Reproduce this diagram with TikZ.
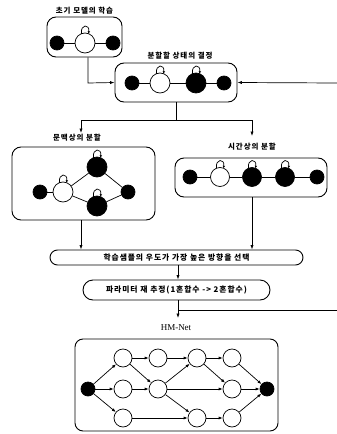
\documentclass[tikz,border=0pt]{standalone}
\usepackage{fontspec}
\newfontfamily\kr[LetterSpace=12]{Noto Sans CJK KR}
\newfontfamily\hmserif{Liberation Serif}
\usetikzlibrary{arrows.meta,calc}
% self loop on top of a node: #1 node name, #2 vertical offset of the foot points
\newcommand\sloop[2]{\draw[selfloop] ($(#1)+(-3.5,-#2)$) .. controls +(-1.5,-10) and +(1.5,-10) .. ($(#1)+(3.5,-#2)$);}
\begin{document}
\begin{tikzpicture}[x=1pt,y=-1pt,
  lw/.style={line width=0.7pt},
  box/.style={draw,line width=0.9pt,rounded corners=9pt,inner sep=0pt},
  lbl/.style={font=\kr\bfseries\fontsize{7.5}{9}\selectfont,inner sep=1pt},
  bk/.style={circle,draw,fill=black,inner sep=0pt,minimum size=#1,line width=0.7pt},
  wt/.style={circle,draw,fill=white,inner sep=0pt,minimum size=#1,line width=0.7pt},
  arr/.style={lw,-{Latex[length=4.5pt,width=3.2pt]}},
  harr/.style={lw,-{Latex[length=4pt,width=3pt]}},
  selfloop/.style={lw,-{Latex[length=2.5pt,width=2.5pt]}},
]
\useasboundingbox (0,0) rectangle (337,434);

% ---- Box 1: initial model
\node[lbl] (t1) at (84.5,11) {초기 모델의 학습};
\node[box,minimum width=75pt,minimum height=40pt] (b1) at (84.5,37) {};
\node[bk=14pt] (a1) at (57,43) {};
\node[wt=20pt] (a2) at (85,43) {};
\node[bk=14pt] (a3) at (113,43) {};
\draw[lw] (a1) -- (a2) -- (a3);
\sloop{a2}{9.2}

% ---- Box 2: state to split
\node[lbl] (t2) at (180,56) {분할할 상태의 결정};
\node[box,minimum width=122pt,minimum height=39pt] (b2) at (176,82.5) {};
\node[bk=14pt] (c1) at (132,83) {};
\node[wt=20pt] (c2) at (160,83) {};
\node[bk=20pt] (c3) at (196,83) {};
\node[bk=14pt] (c4) at (224,83) {};
\draw[lw] (c1) -- (c2) -- (c3) -- (c4);
\sloop{c2}{9.2}
\sloop{c3}{9.2}

% connectors box1 -> box2, feedback -> box2
\coordinate (j1) at (88,83);
\draw[arr] (b1.south -| j1) -- (j1) -- (b2.west);
\coordinate (fbtop) at (337,83);
\draw[arr] (fbtop) -- (b2.east);

% branch
\coordinate (br) at (176,120);
\coordinate (brl) at (81,120);
\coordinate (brr) at (252,120);
\coordinate (t3a) at (81,133);
\coordinate (t4a) at (252,136);
\draw[lw] (b2.south) -- (br);
\draw[arr] (br) -- (brl) -- (t3a);
\draw[arr] (br) -- (brr) -- (t4a);

% ---- Box 3: contextual split
\node[lbl] (t3) at (77,138) {문맥상의 분할};
\node[box,minimum width=143pt,minimum height=73pt] (b3) at (83.5,183.5) {};
\node[bk=14pt] (d1) at (40,192) {};
\node[wt=20pt] (d2) at (63,192) {};
\node[bk=20pt] (d3) at (97,167) {};
\node[bk=20pt] (d4) at (97,206) {};
\node[bk=14pt] (d5) at (128,192) {};
\draw[lw] (d1) -- (d2);
\draw[lw] (d2) -- (d3) -- (d5);
\draw[lw] (d2) -- (d4) -- (d5);
\sloop{d2}{9.2}
\sloop{d3}{9.2}
\sloop{d4}{9.2}

% ---- Box 4: temporal split
\node[lbl] (t4) at (252,147) {시간상의 분할};
\node[box,minimum width=152pt,minimum height=39pt] (b4) at (251,177.5) {};
\node[bk=14pt] (e1) at (190,177) {};
\node[wt=19pt] (e2) at (220,177) {};
\node[bk=19pt] (e3) at (252,177) {};
\node[bk=19pt] (e4) at (285,177) {};
\node[bk=14pt] (e5) at (317,177) {};
\draw[lw] (e1) -- (e2) -- (e3) -- (e4) -- (e5);
\sloop{e2}{8.7}
\sloop{e3}{8.7}
\sloop{e4}{8.7}

% ---- Box 5: select
\node[box,rounded corners=7.5pt,minimum width=253pt,minimum height=15pt,font=\kr\bfseries\fontsize{7.8}{9}\selectfont] (b5) at (176.5,257.5) {학습샘플의 우도가 가장 높은 방향을 선택};
\draw[arr] (b3.south -| brl) -- (b5.north -| brl);
\draw[arr] (b4.south -| brr) -- (b5.north -| brr);

% ---- Box 6: re-estimate
\node[box,rounded corners=10pt,minimum width=187pt,minimum height=20pt,font=\kr\bfseries\fontsize{7.8}{9}\selectfont] (b6) at (176.5,290) {파라미터 재 추정(1혼합수 -> 2혼합수)};
\coordinate (v1) at (178,265);
\draw[arr] (b5.south -| v1) -- (b6.north -| v1);
\coordinate (j2) at (178,310);
\coordinate (hmtop) at (178,318);
\coordinate (fbbot) at (337,310);
\draw[arr] (b6.south -| v1) -- (hmtop);
\draw[lw] (j2) -- (fbbot);

% ---- HM-Net
\node[font=\hmserif\fontsize{9}{10}\selectfont] (hml) at (176,328) {HM-Net};
\node[box,rounded corners=8pt,minimum width=203pt,minimum height=92pt] (hm) at (176.5,385) {};
\node[bk=14pt] (s) at (88,389) {};
\node[wt=18pt] (n11) at (123,358) {};
\node[wt=18pt] (n12) at (123,389) {};
\node[wt=18pt] (n13) at (123,418) {};
\node[wt=18pt] (n21) at (158,358) {};
\node[wt=18pt] (n22) at (158,389) {};
\node[wt=18pt] (n31) at (197,358) {};
\node[wt=18pt] (n33) at (197,418) {};
\node[wt=18pt] (n41) at (232,358) {};
\node[wt=18pt] (n42) at (232,389) {};
\node[wt=18pt] (n43) at (232,418) {};
\node[bk=14pt] (f) at (267,389) {};
\foreach \a/\b in {s/n11,s/n12,s/n13,n11/n21,n11/n22,n12/n22,n13/n33,n21/n31,n22/n31,n22/n42,n22/n33,n31/n41,n31/n42,n33/n43,n41/f,n42/f,n43/f}
  \draw[harr] (\a) -- (\b);
\end{tikzpicture}
\end{document}
